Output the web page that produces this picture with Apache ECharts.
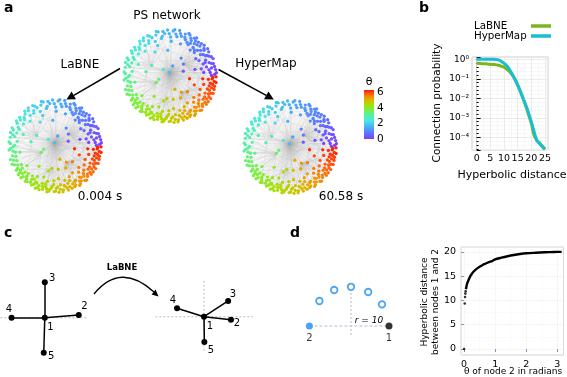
<!DOCTYPE html>
<html>
<head>
<meta charset="utf-8">
<script src="https://cdn.jsdelivr.net/npm/echarts@6/dist/echarts.min.js"></script>
<style>
html, body { margin: 0; padding: 0; background: #fff; }
#chart { width: 567px; height: 377px; }
</style>
</head>
<body>
<div id="chart"></div>
<script>
// ---------- data ----------
// panel a: nodes of the disk, [angle in degrees, radius 0..1, hub it links to]
const diskNodes = [
  [2,0.95,1],[5,0.86,0],[8,0.98,1],[11,0.9,0],[14,0.8,1],[16,0.96,1],[19,0.88,0],[22,0.99,1],[24,0.83,0],[27,0.93,1],[30,0.87,1],[32,0.97,0],[35,0.79,0],[37,0.91,1],[40,0.85,0],[42,0.98,1],[45,0.9,1],[47,0.76,0],[50,0.94,1],[53,0.86,0],[55,0.99,1],[58,0.82,0],
  [61,0.92,0],[64,0.97,1],[67,0.84,0],[70,0.95,0],[74,0.88,0],[78,0.99,4],[82,0.9,0],[86,0.96,0],[89,0.83,0],[93,0.98,0],[97,0.91,4],[101,0.86,0],[105,0.97,0],[109,0.92,0],[113,0.8,4],[117,0.95,0],[121,0.88,0],[125,0.99,4],
  [129,0.84,4],[133,0.93,0],[137,0.9,4],[141,0.97,0],[145,0.82,4],[149,0.94,4],[153,0.88,0],[157,0.99,4],[161,0.86,0],[165,0.93,4],[169,0.97,2],[173,0.81,0],[177,0.95,4],
  [181,0.89,2],[185,0.98,0],[189,0.85,2],[193,0.93,0],[197,0.99,2],[201,0.87,2],[205,0.95,0],[209,0.82,2],[212,0.97,0],[215,0.9,5],[218,0.99,0],[221,0.85,2],[224,0.94,0],[227,0.88,2],[230,0.98,0],[233,0.8,2],
  [236,0.93,5],[239,0.97,0],[242,0.87,5],[245,0.99,2],[248,0.91,5],[251,0.84,0],[254,0.96,5],[257,0.89,5],[260,0.99,0],[263,0.93,5],[266,0.86,0],[269,0.97,5],[272,0.9,0],[275,0.99,3],[278,0.83,5],[281,0.95,0],[284,0.88,5],[287,0.98,0],[290,0.92,5],
  [293,0.8,3],[296,0.96,0],[299,0.87,3],[302,0.99,0],[305,0.91,3],[308,0.84,3],[311,0.97,0],[314,0.89,3],[317,0.95,0],[320,0.8,3],[323,0.93,0],[326,0.98,3],[329,0.86,3],[332,0.94,0],[335,0.9,3],[338,0.99,0],[341,0.84,3],[344,0.92,1],[347,0.97,3],[350,0.87,1],[353,0.95,3],[356,0.9,1],[359,0.98,3],
  [6,0.72,1],[13,0.68,1],[20,0.75,1],[28,0.7,1],[34,0.66,1],[44,0.72,1],[52,0.7,0],[60,0.77,0],[72,0.72,0],[88,0.74,0],[112,0.7,0],[135,0.75,4],[160,0.72,4],[190,0.76,2],[215,0.73,2],
  [240,0.75,5],[250,0.7,5],[258,0.77,5],[268,0.74,5],[276,0.7,3],[286,0.76,3],[295,0.72,3],[303,0.68,3],[312,0.75,3],[318,0.68,3],[327,0.74,3],[336,0.7,3],[346,0.74,1],[355,0.7,1],
  [15,0.55,1],[58,0.45,1],[95,0.55,0],[122,0.6,0],[170,0.52,4],[232,0.55,2],[255,0.55,5],[278,0.5,3],[296,0.52,3],[318,0.5,3],[340,0.55,3],[352,0.42,1],[75,0.22,0],[195,0.25,0],[135,0.2,0],[290,0.3,0],[20,0.3,1],
  [1,0.88,0],[4,0.99,1],[9,0.84,1],[12,0.97,0],[17,0.92,1],[21,0.8,0],[25,0.97,1],[29,0.9,1],[33,0.84,0],[36,0.99,1],[39,0.93,1],[43,0.8,0],[46,0.96,1],[49,0.88,0],[51,0.78,1],[54,0.92,1],[57,0.96,0],[59,0.88,1],
  [63,0.8,0],[66,0.99,0],[69,0.88,0],[76,0.93,0],[80,0.85,0],[84,0.99,0],[91,0.9,0],[99,0.96,4],[103,0.82,0],[107,0.99,0],[115,0.9,4],[119,0.98,0],[123,0.83,0],[127,0.94,4],[131,0.98,0],[139,0.86,4],[143,0.92,0],
  [147,0.98,4],[155,0.84,0],[159,0.95,4],[163,0.99,0],[167,0.88,2],[175,0.98,0],[179,0.86,2],[183,0.94,0],[187,0.9,2],[195,0.86,0],[199,0.93,2],[203,0.99,0],[207,0.89,2],[211,0.93,5],[214,0.84,0],[217,0.94,2],
  [220,0.91,0],[223,0.99,2],[226,0.82,5],[229,0.92,0],[232,0.96,2],[235,0.87,5],[238,0.83,0],[241,0.93,5],[244,0.88,0],[247,0.96,5],[250,0.99,0],[253,0.9,5],[256,0.83,0],[259,0.93,5],[262,0.97,0],[265,0.9,5],
  [268,0.82,3],[271,0.96,0],[274,0.87,5],[277,0.93,3],[280,0.99,0],[283,0.86,3],[286,0.93,5],[289,0.84,3],[292,0.97,0],[295,0.89,3],[298,0.94,3],[301,0.85,0],[304,0.97,3],[307,0.93,3],[310,0.87,0],[313,0.99,3],
  [316,0.84,3],[319,0.91,0],[322,0.98,3],[325,0.86,3],[328,0.92,0],[331,0.99,3],[334,0.83,3],[337,0.94,0],[340,0.89,3],[343,0.98,1],[346,0.86,3],[349,0.92,1],[352,0.99,3],[355,0.82,1],[358,0.91,0]
];
const hubNodes = [[100,0.07],[42,0.38],[205,0.32],[305,0.42],[150,0.45],[262,0.48]];
const diskChords = [
  [3,60],[10,95],[20,120],[30,75],[45,100],[5,130],[50,140],[70,110],[15,85],[90,130],[25,105],[40,115],[60,125],[80,140],[100,150],[0,50],[35,90],[65,135],[12,70],[55,110],
  [160,220],[170,240],[180,200],[190,250],[205,30],[215,80],[225,120],[235,10],[245,60],[255,100],[165,2],[175,44],[185,66],[195,88],[210,140],[230,20],[240,150],[250,170],[162,230],[178,255],
  [7,48],[18,118],[33,83],[52,99],[68,128],[77,176],[92,212],[108,228],[117,183],[126,203],[136,244],[144,190],[152,221],[11,166],[23,233],[41,202],[57,261],[73,237],[86,212],[96,248]
];

// panel b: connection probability (log10) against hyperbolic distance
const hypDist = [0,2,4,6,8,10,11,12,13,14,15,16,17,18,19,20,21,22,23,24,25];
const labneLogProb = [-0.2,-0.22,-0.24,-0.26,-0.3,-0.4,-0.5,-0.62,-0.8,-1.02,-1.31,-1.65,-2.02,-2.41,-2.84,-3.3,-3.9,-4.15,-4.29,-4.45,-4.6];
const hypermapLogProb = [0,0,0,0,-0.03,-0.2,-0.33,-0.51,-0.75,-1.02,-1.31,-1.65,-2.0,-2.36,-2.76,-3.2,-3.7,-4.15,-4.32,-4.48,-4.62];

// panel c: star graph before / after LaBNE (node order 1..5)
const starNames = ['1','2','3','4','5'];
const starBefore = [[0,0],[0.97,0.08],[0,1.01],[-0.95,0],[-0.03,-1.0]];
const starAfter = [[0,0],[0.77,-0.09],[0.69,0.45],[-0.77,0.24],[0.01,-0.72]];
const starEdges = [[0,1],[0,2],[0,3],[0,4]];

// panel d: node 1, node 2 and candidate positions of node 2 (r = 10)
const node1Pos = [9.5,0];
const node2Pos = [-10.4,0];
const candidatePos = [[-7.9,6.25],[-4.2,9],[0,9.8],[4.3,8.5],[7.75,5.4]];

// panel d chart: hyperbolic distance vs theta of node 2
const theta2 = [0.06,0.08,0.1,0.13,0.17,0.2,0.25,0.3,0.4,0.5,0.6,0.7,0.8,0.9,1.0,1.2,1.4,1.6,1.8,2.0,2.3,2.6,2.9,3.14];
const dist12 = [12.3,13.0,13.5,14.0,14.6,15.0,15.5,15.9,16.5,16.95,17.3,17.6,17.9,18.1,18.45,18.8,19.1,19.35,19.55,19.7,19.82,19.92,19.98,20.0];
const theta2Sparse = [0,0.02,0.03,0.04,0.05];
const dist12Sparse = [0,9.35,10.7,11.4,11.9];

// ---------- helpers ----------
const FONT = 'DejaVu Sans';
const rainbowStops = [[0,'#7f3cff'],[0.12,'#5a78ff'],[0.25,'#4ab0f5'],[0.37,'#48e8e0'],[0.5,'#58f0a0'],[0.6,'#78f040'],[0.7,'#a8e000'],[0.78,'#d0c000'],[0.85,'#f09800'],[0.92,'#ff6010'],[1,'#ff1a00']];
function hex2rgb(h) { return [1,3,5].map(i => parseInt(h.substr(i,2),16)); }
function thetaColor(t) {
  const f = Math.min(1, Math.max(0, t / (2*Math.PI)));
  for (let i = 1; i < rainbowStops.length; i++) {
    if (f <= rainbowStops[i][0]) {
      const f0 = rainbowStops[i-1][0], f1 = rainbowStops[i][0];
      const a = hex2rgb(rainbowStops[i-1][1]), b = hex2rgb(rainbowStops[i][1]);
      const k = (f - f0) / (f1 - f0);
      return 'rgb(' + a.map((v,j) => Math.round(v + (b[j]-v)*k)).join(',') + ')';
    }
  }
  return rainbowStops[rainbowStops.length-1][1];
}
function diskSeries(gi) {
  const all = diskNodes.map(n => [n[0], n[1]]).concat(hubNodes);
  const data = all.map((n, i) => {
    const rad = n[0] * Math.PI / 180;
    return { name: 'n' + i, value: [n[1]*Math.cos(rad), n[1]*Math.sin(rad)], itemStyle: { color: thetaColor(rad) } };
  });
  const links = [];
  const H = diskNodes.length;
  diskNodes.forEach((n, i) => {
    links.push({ source: i, target: H + n[2] });
    if (n[2] !== 0) links.push({ source: i, target: H });   // every node also reaches the central hub
  });
  hubNodes.forEach((h, j) => { if (j > 0) links.push({ source: H + j, target: H }); });
  diskChords.forEach(c => { if (c[0] < H && c[1] < H) links.push({ source: c[0], target: c[1] }); });
  return {
    type: 'graph', coordinateSystem: 'cartesian2d', xAxisIndex: gi, yAxisIndex: gi,
    symbolSize: 3.3, data: data, links: links, silent: true,
    lineStyle: { color: '#b0b0b0', width: 0.35, opacity: 0.45 }
  };
}
function hiddenAxis(gi, min, max) {
  return { type: 'value', gridIndex: gi, min: min, max: max, show: false };
}
function starSeries(nodes, offsets, gi) {
  return {
    type: 'graph', coordinateSystem: 'cartesian2d', xAxisIndex: gi, yAxisIndex: gi,
    symbolSize: 6, itemStyle: { color: '#000' }, z: 4,
    data: nodes.map((p, i) => ({
      name: starNames[i], value: p,
      label: { show: true, position: 'inside', offset: offsets[i], formatter: starNames[i], color: '#000', fontSize: 10, fontFamily: FONT }
    })),
    links: starEdges.map(e => ({ source: e[0], target: e[1] })),
    lineStyle: { color: '#000', width: 1.5, opacity: 1 }
  };
}
function guide(gi, pts, color, type) {
  return { type: 'line', xAxisIndex: gi, yAxisIndex: gi, data: pts, symbol: 'none', silent: true, z: 1,
    lineStyle: { color: color, width: 1.2, type: type } };
}
const sup = { '0':'⁰','1':'¹','2':'²','3':'³','4':'⁴','5':'⁵','-':'⁻' };
function txt(x, y, text, size, opts) {
  opts = opts || {};
  return {
    type: 'text', x: x, y: y, rotation: opts.rotation || 0, silent: true,
    style: { text: text, fill: '#000', align: opts.align || 'center', verticalAlign: 'middle',
      font: (opts.style || '') + ' ' + (opts.weight || 'normal') + ' ' + size + 'px "' + FONT + '"', lineHeight: opts.lineHeight }
  };
}
function arrowHead(tip, base1, base2) {
  return { type: 'polygon', silent: true, shape: { points: [tip, base1, base2] }, style: { fill: '#000' } };
}

const chart = echarts.init(document.getElementById('chart'));

const diskGrids = [[170,76],[55,146],[290,147]];
const grids = diskGrids.map(c => ({ left: c[0]-47, top: c[1]-47, width: 94, height: 94 }));
grids.push({ left: 364, top: 90, width: 10, height: 50 });                 // 3 colorbar
grids.push({ left: 472, top: 57, width: 76, height: 93, show: true, borderColor: '#cfcfcf', borderWidth: 1 }); // 4 panel b
grids.push({ left: 0, top: 275.7, width: 89.6, height: 84 });               // 5 star before
grids.push({ left: 153.25, top: 278.2, width: 101.5, height: 77 });         // 6 star after
grids.push({ left: 301, top: 276, width: 100, height: 60 });                // 7 panel d diagram
grids.push({ left: 461, top: 247, width: 102.5, height: 108, show: true, borderColor: '#d4d4d4', borderWidth: 1 }); // 8 panel d chart

const axisText = { color: '#000', fontFamily: FONT };

const xAxes = [
  hiddenAxis(0,-1,1), hiddenAxis(1,-1,1), hiddenAxis(2,-1,1),
  { type: 'category', gridIndex: 3, data: ['θ'], show: false },
  { type: 'value', gridIndex: 4, min: -1.7, max: 26.1, splitNumber: 5,
    axisLine: { show: false }, axisTick: { show: false },
    axisLabel: Object.assign({ fontSize: 9.5, margin: 4, showMinLabel: false, showMaxLabel: false }, axisText),
    splitLine: { lineStyle: { color: '#e6e6e6', width: 0.8 } },
    minorTick: { show: false, splitNumber: 2 }, minorSplitLine: { show: true, lineStyle: { color: '#f1f1f1', width: 0.6 } } },
  hiddenAxis(5,-1.28,1.28), hiddenAxis(6,-1.45,1.45), hiddenAxis(7,-12.5,12.5),
  { type: 'value', gridIndex: 8, min: -0.1, max: 3.2, splitNumber: 3,
    axisLine: { show: false }, axisTick: { show: true, length: 3, lineStyle: { color: '#8c8cc8' } },
    axisLabel: Object.assign({ fontSize: 9.5, margin: 5, showMinLabel: false, showMaxLabel: false }, axisText),
    splitLine: { lineStyle: { color: '#e8e8e8', width: 0.8, type: 'dotted' } },
    minorTick: { show: false, splitNumber: 2 }, minorSplitLine: { show: true, lineStyle: { color: '#f0f0f0', width: 0.6, type: 'dotted' } } }
];
const yAxes = [
  hiddenAxis(0,-1,1), hiddenAxis(1,-1,1), hiddenAxis(2,-1,1),
  { type: 'value', gridIndex: 3, position: 'right', min: -0.13, max: 6.35, splitNumber: 3,
    axisLine: { show: false }, axisTick: { show: false }, splitLine: { show: false },
    axisLabel: Object.assign({ fontSize: 10.5, margin: 3, showMinLabel: false, showMaxLabel: false }, axisText) },
  { type: 'value', gridIndex: 4, min: -4.65, max: 0.12, splitNumber: 5,
    axisLine: { show: true, lineStyle: { color: '#cfcfcf' } },
    axisTick: { show: true, inside: true, length: 4, lineStyle: { color: '#000' } },
    minorTick: { show: true, splitNumber: 5, length: 2, lineStyle: { color: '#000' } },
    axisLabel: Object.assign({ fontSize: 9, margin: 3, showMinLabel: false, showMaxLabel: false,
      formatter: v => '10' + String(Math.round(v)).split('').map(ch => sup[ch]).join('') }, axisText),
    splitLine: { lineStyle: { color: '#e6e6e6', width: 0.8 } },
    minorSplitLine: { show: true, lineStyle: { color: '#f1f1f1', width: 0.6 } } },
  hiddenAxis(5,-1.2,1.2), hiddenAxis(6,-1.1,1.1), hiddenAxis(7,-2.5,12.5),
  { type: 'value', gridIndex: 8, min: -1.24, max: 21, splitNumber: 4,
    axisLine: { show: false }, axisTick: { show: true, length: 3, lineStyle: { color: '#8c8cc8' } },
    axisLabel: Object.assign({ fontSize: 9.5, margin: 5, showMinLabel: false, showMaxLabel: false }, axisText),
    splitLine: { lineStyle: { color: '#e8e8e8', width: 0.8, type: 'dotted' } },
    minorTick: { show: false, splitNumber: 2 }, minorSplitLine: { show: true, lineStyle: { color: '#f0f0f0', width: 0.6, type: 'dotted' } } }
];

const series = [
  diskSeries(0), diskSeries(1), diskSeries(2),
  { type: 'bar', xAxisIndex: 3, yAxisIndex: 3, data: [6.35], barWidth: '100%', silent: true,
    itemStyle: { color: new echarts.graphic.LinearGradient(0, 1, 0, 0, rainbowStops.map(s => ({ offset: s[0], color: s[1] }))) } },
  { name: 'LaBNE', type: 'line', xAxisIndex: 4, yAxisIndex: 4, data: hypDist.map((d, i) => [d, labneLogProb[i]]),
    symbol: 'none', smooth: 0.3, lineStyle: { color: '#7cb51c', width: 3 }, itemStyle: { color: '#7cb51c' } },
  { name: 'HyperMap', type: 'line', xAxisIndex: 4, yAxisIndex: 4, data: hypDist.map((d, i) => [d, hypermapLogProb[i]]),
    symbol: 'none', smooth: 0.3, lineStyle: { color: '#17bfd0', width: 3 }, itemStyle: { color: '#17bfd0' } },
  guide(5, [[-1.27,0],[1.24,0]], '#c8c8c8', [2,2]),
  starSeries(starBefore, [[5.7,9.3],[5.7,-8],[7.4,-4.3],[-2.7,-8],[7.4,4]], 5),
  guide(6, [[-1.39,0],[1.4,0]], '#c8c8d4', [2,2]),
  guide(6, [[0,1.03],[0,-1.0]], '#c4c4e0', [2,2]),
  starSeries(starAfter, [[6,9.3],[6,4],[4.7,-7],[-4,-8.3],[6.7,8.3]], 6),
  guide(7, [node2Pos, node1Pos], '#b8b8dc', [3,2]),
  guide(7, [[0,-2.25],[0,8.6]], '#c8c8c8', [2,2]),
  { type: 'scatter', xAxisIndex: 7, yAxisIndex: 7, data: candidatePos, symbol: 'circle', symbolSize: 6.5, silent: true,
    itemStyle: { color: '#fff', borderColor: '#1f8ff0', borderWidth: 1.8 } },
  { type: 'scatter', xAxisIndex: 7, yAxisIndex: 7, symbolSize: 7, silent: true, z: 4,
    data: [
      { value: node1Pos, itemStyle: { color: '#000' }, label: { show: true, formatter: '1', position: 'bottom', distance: 4 } },
      { value: node2Pos, itemStyle: { color: '#1f8ff0' }, label: { show: true, formatter: '2', position: 'bottom', distance: 4 } }
    ],
    label: { color: '#000', fontSize: 10, fontFamily: FONT } },
  { type: 'line', xAxisIndex: 8, yAxisIndex: 8, data: theta2.map((t, i) => [t, dist12[i]]), symbol: 'none', smooth: 0.3,
    lineStyle: { color: '#000', width: 2.4 }, silent: true },
  { type: 'scatter', xAxisIndex: 8, yAxisIndex: 8, data: theta2Sparse.map((t, i) => [t, dist12Sparse[i]]), symbolSize: 2.6,
    itemStyle: { color: '#000' }, silent: true }
];

const graphic = [
  txt(4, 8, 'a', 14, { align: 'left', weight: 'bold' }),
  txt(419, 8, 'b', 14, { align: 'left', weight: 'bold' }),
  txt(4, 233, 'c', 14, { align: 'left', weight: 'bold' }),
  txt(290, 233, 'd', 14, { align: 'left', weight: 'bold' }),
  txt(167, 16, 'PS network', 12),
  txt(80, 65, 'LaBNE', 12),
  txt(266, 64, 'HyperMap', 12),
  txt(100, 197, '0.004 s', 12),
  txt(341, 197, '60.58 s', 12),
  txt(369, 82, 'θ', 11),
  { type: 'line', silent: true, shape: { x1: 120, y1: 68.5, x2: 73.8, y2: 95.3 }, style: { stroke: '#000', lineWidth: 1.5 } },
  arrowHead([66.5, 99.5], [76.0, 99.2], [71.6, 91.4]),
  { type: 'line', silent: true, shape: { x1: 218.5, y1: 69.5, x2: 266.2, y2: 95.4 }, style: { stroke: '#000', lineWidth: 1.5 } },
  arrowHead([273.8, 99.5], [264.0, 99.3], [268.4, 91.5]),
  txt(437, 103, 'Connection probability', 10.5, { rotation: Math.PI / 2 }),
  txt(512, 175, 'Hyperbolic distance', 11),
  txt(122, 268, 'LaBNE', 8.5, { weight: 'bold' }),
  { type: 'bezierCurve', silent: true, shape: { x1: 94, y1: 294, cpx1: 120.5, cpy1: 261.5, x2: 154, y2: 292 },
    style: { stroke: '#000', lineWidth: 1.3, fill: null } },
  arrowHead([158.5, 296.5], [151.6, 294.4], [155.6, 289.6]),
  txt(369, 320.5, 'r = 10', 9, { style: 'italic' }),
  txt(430.5, 302, 'Hyperbolic distance\nbetween nodes 1 and 2', 9, { rotation: Math.PI / 2, lineHeight: 11 }),
  txt(513, 372, 'θ of node 2 in radians', 9)
];

chart.setOption({
  animation: false,
  backgroundColor: '#fff',
  textStyle: { fontFamily: FONT },
  grid: grids,
  xAxis: xAxes,
  yAxis: yAxes,
  legend: {
    orient: 'vertical', left: 474, top: 21, align: 'right', itemGap: 0, padding: 0,
    icon: 'rect', itemWidth: 20, itemHeight: 3.5, selectedMode: false,
    data: ['LaBNE', 'HyperMap'],
    formatter: '{t|{name}}',
    textStyle: { rich: { t: { width: 52, align: 'left', fontSize: 10.3, lineHeight: 14, color: '#000', fontFamily: FONT } } }
  },
  series: series,
  graphic: graphic
});
</script>
</body>
</html>
